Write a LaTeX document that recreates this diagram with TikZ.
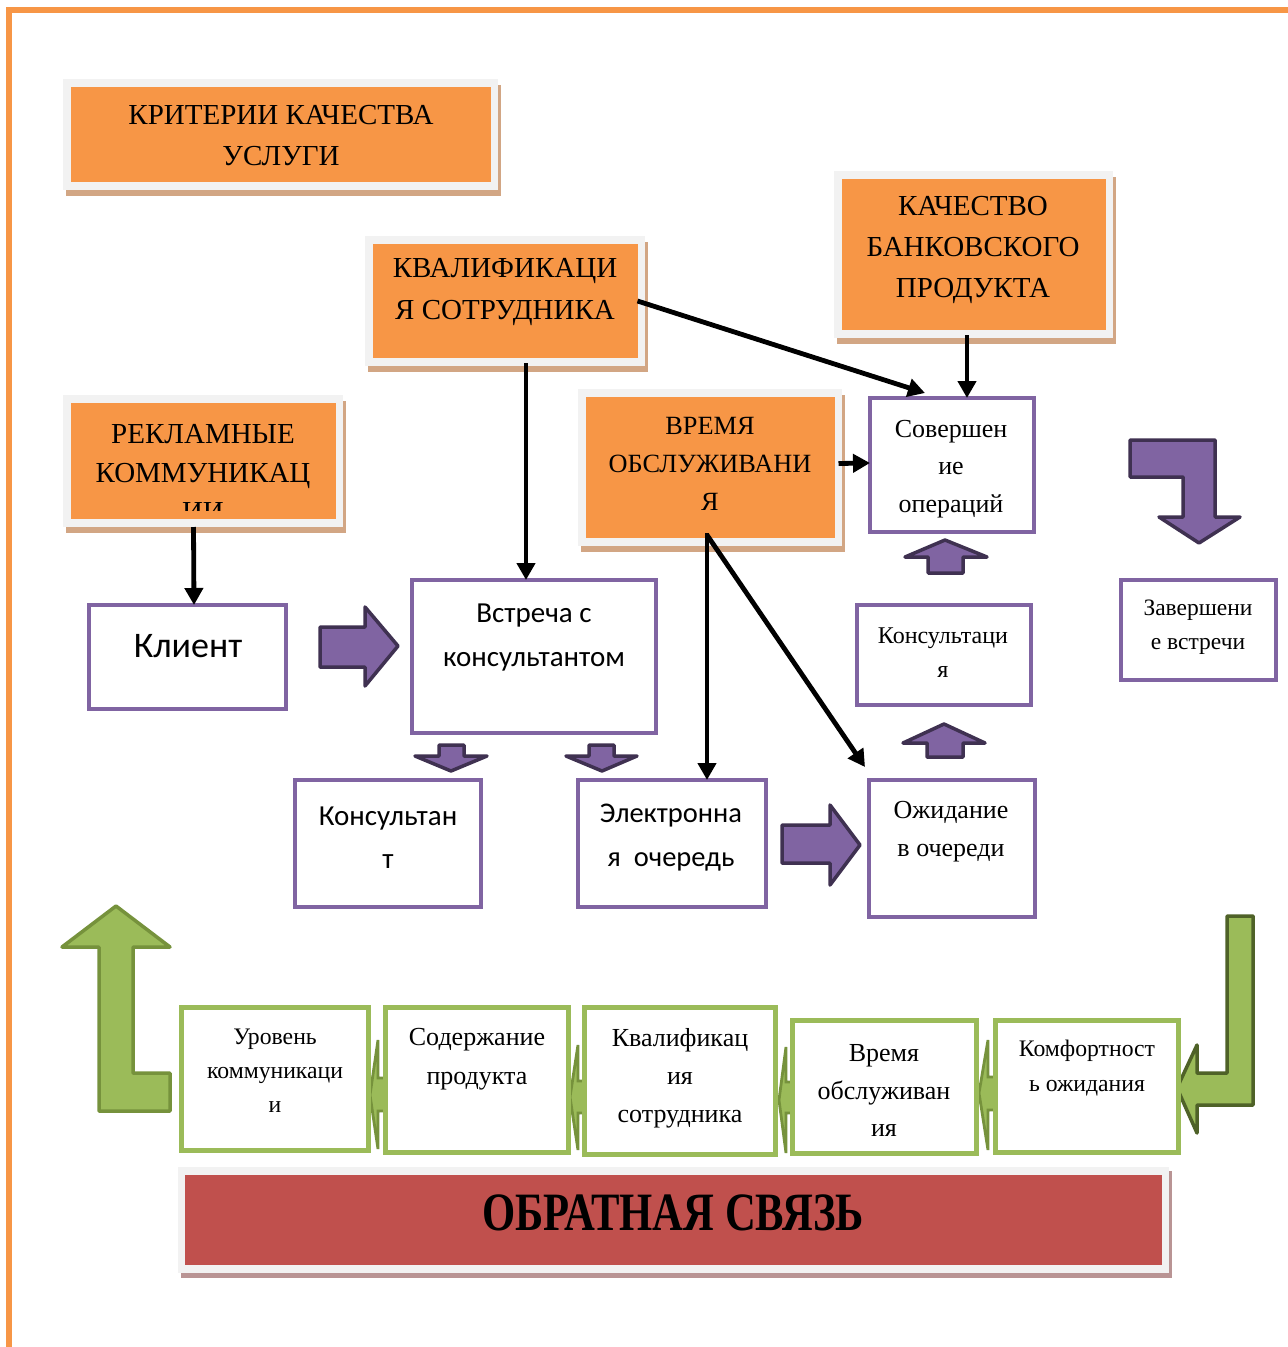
\documentclass[tikz,border=0pt]{standalone}
\usepackage{fontspec}
\setmainfont{Liberation Serif}
\newfontfamily\calfont{Carlito}
\usetikzlibrary{arrows.meta}
\definecolor{orng}{HTML}{F79646}
\definecolor{oshad}{HTML}{D2A684}
\definecolor{fgray}{HTML}{F2F2F2}
\definecolor{purp}{HTML}{8064A2}
\definecolor{dpurp}{HTML}{3F3151}
\definecolor{grn}{HTML}{9BBB59}
\definecolor{dgrn}{HTML}{76923C}
\definecolor{ddgrn}{HTML}{4F6228}
\definecolor{redb}{HTML}{C0504D}
\definecolor{rshad}{HTML}{B99494}
\newcommand\fs[2]{\fontsize{#1}{#2}\selectfont}
\newcommand\obx[5]{%
 \fill[oshad] (#2+3,#3+6) rectangle (#4+3,#5+6);
 \fill[fgray] (#2,#3) rectangle (#4,#5);
 \node[obox,minimum width={#4-#2-15},minimum height={#5-#3-16}] (#1) at ({(#2+#4)/2},{(#3+#5)/2}) {};
}
\begin{document}
\begin{tikzpicture}[x=1pt,y=-1pt,
  pbox/.style={draw=purp,line width=4pt,fill=white,inner sep=0pt,outer sep=0pt},
  gbox/.style={draw=grn,line width=5pt,fill=white,inner sep=0pt,outer sep=0pt},
  obox/.style={fill=orng,inner sep=0pt,outer sep=0pt},
  txt/.style={align=center,inner sep=0pt},
  blk/.style={line width=4.8pt,-{Triangle[length=17pt,width=18pt]}},
  parr/.style={fill=purp,draw=dpurp,line width=3.5pt,line join=round},
  garr/.style={fill=grn,draw=dgrn,line width=3.5pt,line join=round},
  sarr/.style={fill=grn,draw=dgrn,line width=2.8pt},
]
\useasboundingbox (0,0) rectangle (1288,1347);
\fill[white] (0,0) rectangle (1288,1347);
\draw[orng,line width=6pt] (9,1347) -- (9,9.5) -- (1288,9.5);

% orange boxes
\obx{kr}{63}{79}{498}{190}
\obx{kval}{365}{236}{645}{366}
\obx{kach}{834}{171}{1113}{338}
\obx{rekl}{63}{395}{343}{527}
\obx{vrem}{578}{389}{842}{546}

\node[txt,font=\fs{29}{41}] (t-kr) at (281,136) {КРИТЕРИИ КАЧЕСТВА\\УСЛУГИ};
\node[txt,font=\fs{29}{42}] (t-kval) at (505,292) {КВАЛИФИКАЦИ\\Я СОТРУДНИКА};
\node[txt,font=\fs{29}{41}] (t-kach) at (973,250) {КАЧЕСТВО\\БАНКОВСКОГО\\ПРОДУКТА};
\begin{scope}
\clip (71,404) rectangle (336,510);
\node[txt,font=\fs{29}{39}] (t-rekl) at (203,473) {РЕКЛАМНЫЕ\\КОММУНИКАЦ\\ИИ};
\end{scope}
\node[txt,font=\fs{26.3}{38}] (t-vrem) at (710,464) {ВРЕМЯ\\ОБСЛУЖИВАНИ\\Я};

% purple boxes
\node[pbox,minimum width=164pt,minimum height=134pt] (sov) at (952,465) {};
\node[pbox,minimum width=174pt,minimum height=100pt] (kons) at (944,655) {};
\node[pbox,minimum width=155pt,minimum height=100pt] (zav) at (1198.5,630) {};
\node[pbox,minimum width=197pt,minimum height=104pt] (klient) at (187.5,657) {};
\node[pbox,minimum width=244pt,minimum height=153pt] (vstr) at (534,656.5) {};
\node[pbox,minimum width=186pt,minimum height=127pt] (konst) at (388,843.5) {};
\node[pbox,minimum width=188pt,minimum height=127pt] (elec) at (672,843.5) {};
\node[pbox,minimum width=166pt,minimum height=137pt] (ozh) at (952,848.5) {};

\node[txt,font=\fs{26}{37.5}] (t-sov) at (951,469) {Совершен\\ие\\операций};
\node[txt,font=\fs{24}{34}] (t-kons) at (943,653) {Консультаци\\я};
\node[txt,font=\fs{23.5}{34}] (t-zav) at (1198,627) {Завершени\\е встречи};
\node[txt,font=\calfont\fs{36}{40}] (t-klient) at (188,646) {Клиент};
\node[txt,font=\calfont\fs{29}{44}] (t-vstr) at (534,638) {Встреча с\\консультантом};
\node[txt,font=\calfont\fs{29}{43}] (t-konst) at (388,837.5) {Консультан\\т};
\node[txt,font=\calfont\fs{28.5}{44}] (t-elec) at (671,838) {Электронна\\я\ \ очередь};
\node[txt,font=\fs{26}{38}] (t-ozh) at (951,832) {Ожидание\\в очереди};

% purple block arrows
\draw[parr] (320,627) -- (365,627) -- (365,607) -- (398,646) -- (365,686) -- (365,667) -- (320,667) -- cycle;
\draw[parr] (439,745) -- (464,745) -- (464,756) -- (487,756) -- (451,771) -- (415,756) -- (439,756) -- cycle;
\draw[parr] (589,745) -- (614,745) -- (614,756) -- (637,756) -- (602,771) -- (566,756) -- (589,756) -- cycle;
\draw[parr] (782,825) -- (830,825) -- (830,805) -- (860,845) -- (830,885) -- (830,863) -- (782,863) -- cycle;
\draw[parr] (927,757) -- (927,743) -- (903,743) -- (944,724) -- (985,743) -- (963,743) -- (963,757) -- cycle;
\draw[parr] (928,573) -- (928,557) -- (905,557) -- (945,540) -- (987,557) -- (963,557) -- (963,573) -- cycle;
\draw[parr] (1130,440) -- (1215,440) -- (1215,517) -- (1240,517) -- (1199,543) -- (1159,517) -- (1183,517) -- (1183,477) -- (1130,477) -- cycle;

% black connectors
\draw[blk] ([xshift=-9.5pt,yshift=-8pt]rekl.south) -- ([xshift=6.5pt]klient.north);
\draw[blk] ([xshift=21pt,yshift=-5pt]kval.south) -- ([xshift=-8pt]vstr.north);
\draw[blk] (kval.east) -- ([xshift=-27pt,yshift=5pt]sov.north);
\draw[blk] ([xshift=-6.5pt,yshift=-5pt]kach.south) -- ([xshift=15pt]sov.north);
\draw[blk] ([xshift=4pt,yshift=4pt]vrem.east) -- ([yshift=2pt]sov.west);
\draw[blk] ([xshift=-3pt,yshift=5pt]vrem.south) -- ([xshift=35pt]elec.north);
\draw[blk] ([xshift=-3pt,yshift=3pt]vrem.south) -- ([xshift=-4pt,yshift=13pt]ozh.north west);

% green big arrows
\draw[garr] (116,906) -- (170,947) -- (133,947) -- (133,1073) -- (170,1073) -- (170,1111) -- (99,1111) -- (99,947) -- (62,947) -- cycle;
\draw[garr,draw=ddgrn] (1227,916) -- (1253,916) -- (1253,1105) -- (1197,1105) -- (1197,1133) -- (1177,1088) -- (1197,1045) -- (1197,1073) -- (1227,1073) -- cycle;

% small green arrows
\draw[sarr] (383,1078) -- (378,1078) -- (378,1040) -- (370,1095) -- (378,1149) -- (378,1111) -- (383,1111);
\draw[sarr] (587,1081) -- (578,1081) -- (578,1045) -- (570,1097) -- (578,1150) -- (578,1113) -- (587,1113);
\draw[sarr] (792,1082) -- (786,1082) -- (786,1047) -- (779,1100) -- (786,1153) -- (786,1113) -- (792,1113);
\draw[sarr] (995,1077) -- (988,1077) -- (988,1040) -- (979,1093) -- (988,1150) -- (988,1110) -- (995,1110);

% green boxes
\node[gbox,minimum width=187pt,minimum height=143pt] (g1) at (275,1079) {};
\node[gbox,minimum width=183pt,minimum height=145pt] (g2) at (477,1080) {};
\node[gbox,minimum width=191pt,minimum height=147pt] (g3) at (680,1081) {};
\node[gbox,minimum width=184pt,minimum height=133pt] (g4) at (884.5,1087) {};
\node[gbox,minimum width=183pt,minimum height=132pt] (g5) at (1087,1086.5) {};

\node[txt,font=\fs{23.7}{34}] (t-g1) at (275,1071) {Уровень\\коммуникаци\\и};
\node[txt,font=\fs{26}{39}] (t-g2) at (477,1059.5) {Содержание\\продукта};
\node[txt,font=\fs{26}{38}] (t-g3) at (680,1078) {Квалификац\\ия\\сотрудника};
\node[txt,font=\fs{26}{37.5}] (t-g4) at (884,1090.5) {Время\\обслуживан\\ия};
\node[txt,font=\fs{23.7}{35}] (t-g5) at (1087,1068) {Комфортност\\ь ожидания};

% feedback bar
\fill[rshad] (181,1171) rectangle (1172,1278);
\fill[fgray] (178,1167) rectangle (1169,1273);
\node[fill=redb,minimum width=977pt,minimum height=90pt,inner sep=0pt] (fb) at (673.5,1220) {};
\node[txt,font=\bfseries\fs{54}{54}] (t-fb) at (673,1213) {\scalebox{0.79}[1]{ОБРАТНАЯ СВЯЗЬ}};
\end{tikzpicture}
\end{document}
